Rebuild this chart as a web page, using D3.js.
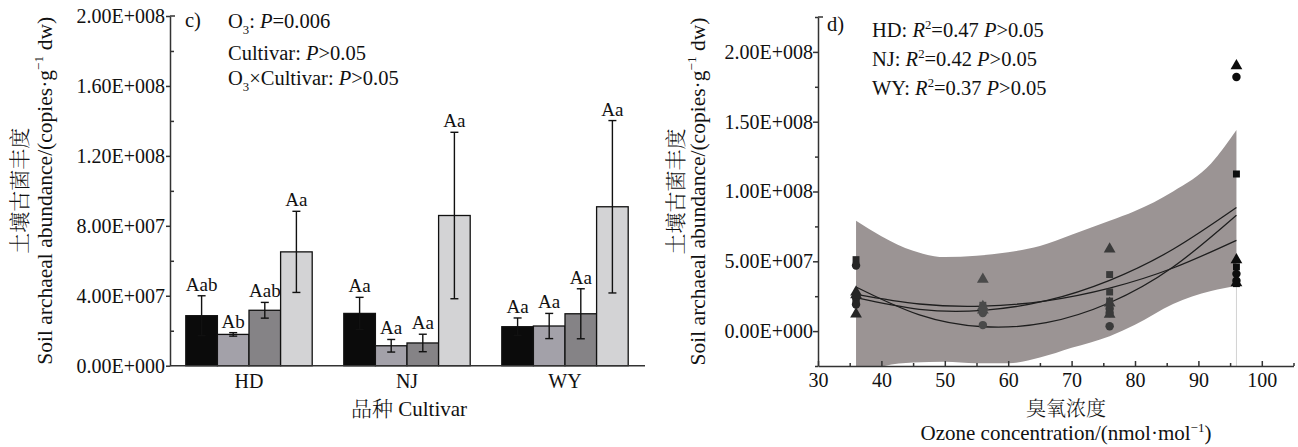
<!DOCTYPE html>
<html lang="zh">
<head>
<meta charset="UTF-8">
<title>Soil archaeal abundance</title>
<script src="https://d3js.org/d3.v7.min.js"></script>
<style>
  body { margin: 0; background: #fff; }
  svg text { font-family: "Liberation Serif", "Times New Roman", serif; fill: #111; }
  svg .cjk { font-family: "Noto Serif CJK SC", "Noto Sans CJK SC", sans-serif; font-weight: 300; }
  .axis path, .axis line { stroke: #333; stroke-width: 1.5; }
  .axis text { font-size: 20px; }
</style>
</head>
<body>
<script>
// ---- data ----
const cultivars = ["HD", "NJ", "WY"];
const ozoneLevels = [36, 56, 76, 96];

// bar chart (c): mean and error per ozone level
const hdMean = [2.86e7, 1.79e7, 3.17e7, 6.51e7];
const njMean = [2.99e7, 1.14e7, 1.30e7, 8.59e7];
const wyMean = [2.23e7, 2.27e7, 2.97e7, 9.09e7];
const hdErr = [1.14e7, 0.10e7, 0.45e7, 2.32e7];
const njErr = [0.92e7, 0.36e7, 0.50e7, 4.76e7];
const wyErr = [0.50e7, 0.72e7, 1.43e7, 4.93e7];
const hdLetters = ["Aab", "Ab", "Aab", "Aa"];
const njLetters = ["Aa", "Aa", "Aa", "Aa"];
const wyLetters = ["Aa", "Aa", "Aa", "Aa"];
const barTicks = [0, 4e7, 8e7, 1.2e8, 1.6e8, 2e8];

// scatter (d): observations (HD squares, NJ circles, WY triangles)
const obsX = [36, 36, 36, 56, 56, 56, 76, 76, 76, 96, 96, 96];
const hdObs = [5.12e7, 2.3e7, 2.05e7, 1.85e7, 1.7e7, 1.55e7, 4.05e7, 2.8e7, 2.15e7, 11.25e7, 4.6e7, 3.4e7];
const njObs = [4.7e7, 2.4e7, 1.9e7, 1.39e7, 0.43e7, 1.3e7, 0.35e7, 1.6e7, 1.3e7, 18.2e7, 4.1e7, 3.6e7];
const wyObs = [2.8e7, 1.22e7, 2.6e7, 3.71e7, 1.75e7, 1.5e7, 5.87e7, 2.0e7, 1.2e7, 19.0e7, 5.1e7, 3.45e7];

// fitted curves
const fitX = [36, 46, 56, 66, 76, 86, 96];
const hdFit = [2.63e7, 1.94e7, 1.79e7, 2.17e7, 3.08e7, 4.52e7, 6.5e7];
const njFit = [3.16e7, 1.16e7, 0.31e7, 0.60e7, 2.03e7, 4.59e7, 8.3e7];
const wyFit = [2.39e7, 1.56e7, 1.49e7, 2.18e7, 3.64e7, 5.86e7, 8.85e7];

// confidence band envelope
const bandX = [36, 40, 45, 50, 55, 60, 65, 70, 76, 80, 86, 92, 96];
const bandUpper = [7.9e7, 6.8e7, 5.75e7, 5.3e7, 5.4e7, 5.65e7, 6.1e7, 6.9e7, 7.9e7, 8.6e7, 10.0e7, 12.0e7, 14.4e7];
const bandLower = [-3.2e7, -2.55e7, -2.25e7, -2.2e7, -2.3e7, -2.3e7, -1.9e7, -1.2e7, -0.36e7, 0.45e7, 1.95e7, 2.87e7, 3.23e7];

const scatterYTicks = [0, 5e7, 1e8, 1.5e8, 2e8];
const scatterXTicks = [30, 40, 50, 60, 70, 80, 90, 100];

// ---- helpers ----
const width = 1298, height = 447;
const barColors = ["#0b0b0b", "#a3a1a9", "#858386", "#d3d3d5"];

function sci(v) {
    if (v === 0) return "0.00E+000";
    const e = Math.floor(Math.log10(Math.abs(v)));
    return (v / Math.pow(10, e)).toFixed(2) + "E+" + String(e).padStart(3, "0");
}

// text with sub/superscripts and italics
function rich(sel, parts, size) {
    let shift = 0;
    parts.forEach(p => {
        const ts = sel.append("tspan").text(p.t);
        const target = p.sub ? size * 0.3 : p.sup ? -size * 0.4 : 0;
        if (target !== shift) { ts.attr("dy", target - shift); shift = target; }
        if (p.sub || p.sup) ts.attr("font-size", size * 0.62);
        if (p.it) ts.attr("font-style", "italic");
    });
}

const svg = d3.select("body").append("svg")
    .attr("width", width)
    .attr("height", height);

// ================= chart c) =================
const cL = 170, cR = 644, cT = 16, cB = 365.7;

const x0 = d3.scaleBand().domain(cultivars).range([cL, cR]).paddingInner(0.2).paddingOuter(0.1);
const x1 = d3.scaleBand().domain(ozoneLevels).range([0, x0.bandwidth()]);
const yC = d3.scaleLinear().domain([0, 2e8]).range([cB, cT]);

const barData = [];
[[hdMean, hdErr, hdLetters], [njMean, njErr, njLetters], [wyMean, wyErr, wyLetters]].forEach((s, i) => {
    ozoneLevels.forEach((o, j) => {
        barData.push({ cult: cultivars[i], oz: o, idx: j, mean: s[0][j], err: s[1][j], lab: s[2][j] });
    });
});

const gBars = svg.append("g");
gBars.selectAll("rect")
    .data(barData)
    .enter()
    .append("rect")
    .attr("x", d => x0(d.cult) + x1(d.oz))
    .attr("y", d => yC(d.mean))
    .attr("width", x1.bandwidth())
    .attr("height", d => cB - yC(d.mean))
    .attr("fill", d => barColors[d.idx])
    .attr("stroke", "#111")
    .attr("stroke-width", 1.3);

// error bars
const eb = gBars.selectAll(".eb").data(barData).enter().append("g")
    .attr("transform", d => "translate(" + (x0(d.cult) + x1(d.oz) + x1.bandwidth() / 2) + ",0)");
eb.append("line")
    .attr("y1", d => yC(d.mean - d.err)).attr("y2", d => yC(d.mean + d.err))
    .attr("stroke", "#111").attr("stroke-width", 1.4);
eb.append("line")
    .attr("x1", -4).attr("x2", 4)
    .attr("y1", d => yC(d.mean + d.err)).attr("y2", d => yC(d.mean + d.err))
    .attr("stroke", "#111").attr("stroke-width", 1.4);
eb.append("line")
    .attr("x1", -4).attr("x2", 4)
    .attr("y1", d => yC(d.mean - d.err)).attr("y2", d => yC(d.mean - d.err))
    .attr("stroke", "#111").attr("stroke-width", 1.4);
eb.append("text")
    .attr("y", d => yC(d.mean + d.err) - 5)
    .attr("text-anchor", "middle")
    .attr("font-size", "19px")
    .text(d => d.lab);

// axes
svg.append("g")
    .attr("class", "axis")
    .attr("transform", "translate(" + cL + ",0)")
    .call(d3.axisLeft(yC).tickValues(barTicks).tickFormat(sci).tickSize(4).tickPadding(1).tickSizeOuter(0));
svg.append("g")
    .attr("class", "axis")
    .attr("transform", "translate(" + cL + ",0)")
    .call(d3.axisRight(yC).tickValues(barTicks.slice(1).map(v => v - 2e7)).tickFormat("").tickSize(4).tickSizeOuter(0))
    .select(".domain").remove();
svg.append("line").attr("x1", cL).attr("x2", cL + 5).attr("y1", cT).attr("y2", cT)
    .attr("stroke", "#333").attr("stroke-width", 1.5);

svg.append("g")
    .attr("class", "axis")
    .attr("transform", "translate(0," + cB + ")")
    .call(d3.axisBottom(x0).tickSize(0).tickPadding(8).tickSizeOuter(0))
    .call(g => g.select(".domain").attr("d", "M" + cL + ",0H" + (cR + 1)));

// axis titles
svg.append("text").attr("class", "cjk")
    .attr("transform", "translate(27," + ((cT + cB) / 2) + ") rotate(-90)")
    .attr("text-anchor", "middle").attr("font-size", "21px")
    .text("土壤古菌丰度");
const ylC = svg.append("text")
    .attr("transform", "translate(52," + ((cT + cB) / 2) + ") rotate(-90)")
    .attr("text-anchor", "middle").attr("font-size", "21.5px");
rich(ylC, [{ t: "Soil archaeal abundance/(copies·g" }, { t: "−1", sup: true }, { t: " dw)" }], 21.5);

const xtC = svg.append("text").attr("x", 409).attr("y", 416)
    .attr("text-anchor", "middle").attr("font-size", "21px");
xtC.append("tspan").attr("class", "cjk").text("品种");
xtC.append("tspan").text(" Cultivar");

// annotations
svg.append("text").attr("x", 185).attr("y", 27).attr("font-size", "20.5px").text("c)");
const a1 = svg.append("text").attr("x", 228).attr("y", 28).attr("font-size", "20.5px");
rich(a1, [{ t: "O" }, { t: "3", sub: true }, { t: ": " }, { t: "P", it: true }, { t: "=0.006" }], 20.5);
const a2 = svg.append("text").attr("x", 228).attr("y", 60).attr("font-size", "20.5px");
rich(a2, [{ t: "Cultivar: " }, { t: "P", it: true }, { t: ">0.05" }], 20.5);
const a3 = svg.append("text").attr("x", 228).attr("y", 85).attr("font-size", "20.5px");
rich(a3, [{ t: "O" }, { t: "3", sub: true }, { t: "×Cultivar: " }, { t: "P", it: true }, { t: ">0.05" }], 20.5);

// ================= chart d) =================
const dL = 818, dR = 1293.5, dT = 17, dB = 366;
const xD = d3.scaleLinear().domain([30, 105]).range([dL, dR]);
const yD = d3.scaleLinear().domain([-2.5e7, 2.25e8]).range([dB, dT]);

svg.append("clipPath").attr("id", "clipD")
    .append("rect").attr("x", dL).attr("y", dT).attr("width", dR - dL).attr("height", dB - dT);
const gD = svg.append("g").attr("clip-path", "url(#clipD)");

const band = d3.area()
    .x((d, i) => xD(bandX[i]))
    .y0((d, i) => yD(bandLower[i]))
    .y1((d, i) => yD(bandUpper[i]))
    .curve(d3.curveMonotoneX);
gD.append("path").datum(bandX).attr("d", band).attr("fill", "#9b9494");

gD.append("line")
    .attr("x1", xD(96)).attr("x2", xD(96))
    .attr("y1", yD(bandLower[bandLower.length - 1])).attr("y2", dB)
    .attr("stroke", "#d2d2d2").attr("stroke-width", 1);

const fitLine = d3.line().x((d, i) => xD(fitX[i])).y(d => yD(d)).curve(d3.curveNatural);
[hdFit, njFit, wyFit].forEach(f => {
    gD.append("path").datum(f).attr("d", fitLine)
        .attr("fill", "none").attr("stroke", "#1e1e1e").attr("stroke-width", 1.3);
});

const levelShade = d3.scaleOrdinal().domain(ozoneLevels).range(["#262626", "#4a4a4a", "#3a3a3a", "#0d0d0d"]);
const series = [
    { vals: hdObs, sym: d3.symbolSquare, size: 48 },
    { vals: njObs, sym: d3.symbolCircle, size: 56 },
    { vals: wyObs, sym: d3.symbolTriangle, size: 60 }
];
series.forEach(s => {
    gD.selectAll(null)
        .data(s.vals)
        .enter()
        .append("path")
        .attr("d", d3.symbol().type(s.sym).size(s.size))
        .attr("transform", (d, i) => "translate(" + xD(obsX[i]) + "," + yD(d) + ")")
        .attr("fill", (d, i) => levelShade(obsX[i]));
});

// axes
svg.append("g")
    .attr("class", "axis")
    .attr("transform", "translate(" + dL + ",0)")
    .call(d3.axisLeft(yD).tickValues(scatterYTicks).tickFormat(sci).tickSize(5).tickPadding(0).tickSizeOuter(0));
svg.append("g")
    .attr("class", "axis")
    .attr("transform", "translate(" + dL + ",0)")
    .call(d3.axisLeft(yD).tickValues(scatterYTicks.map(v => v - 2.5e7).concat([2.25e8])).tickFormat("").tickSize(3).tickSizeOuter(0))
    .select(".domain").remove();
svg.append("line").attr("x1", dL).attr("x2", dL + 5).attr("y1", dT).attr("y2", dT)
    .attr("stroke", "#333").attr("stroke-width", 1.5);

svg.append("g")
    .attr("class", "axis")
    .attr("transform", "translate(0," + dB + ")")
    .call(d3.axisBottom(xD).tickValues(scatterXTicks).tickSize(-5).tickPadding(7).tickSizeOuter(0));
svg.append("g")
    .attr("class", "axis")
    .attr("transform", "translate(0," + dB + ")")
    .call(d3.axisBottom(xD).tickValues(scatterXTicks.map(v => v + 5)).tickFormat("").tickSize(-3).tickSizeOuter(0))
    .select(".domain").remove();

// axis titles
svg.append("text").attr("class", "cjk")
    .attr("transform", "translate(683," + ((dT + dB) / 2) + ") rotate(-90)")
    .attr("text-anchor", "middle").attr("font-size", "21px")
    .text("土壤古菌丰度");
const ylD = svg.append("text")
    .attr("transform", "translate(705," + ((dT + dB) / 2) + ") rotate(-90)")
    .attr("text-anchor", "middle").attr("font-size", "21.5px");
rich(ylD, [{ t: "Soil archaeal abundance/(copies·g" }, { t: "−1", sup: true }, { t: " dw)" }], 21.5);

svg.append("text").attr("class", "cjk")
    .attr("x", 1066).attr("y", 416)
    .attr("text-anchor", "middle").attr("font-size", "20px")
    .text("臭氧浓度");
const xtD = svg.append("text").attr("x", 1066).attr("y", 440)
    .attr("text-anchor", "middle").attr("font-size", "21px");
rich(xtD, [{ t: "Ozone concentration/(nmol·mol" }, { t: "−1", sup: true }, { t: ")" }], 21);

// annotations
svg.append("text").attr("x", 827).attr("y", 31).attr("font-size", "20.5px").text("d)");
[["HD: ", "0.47", 37], ["NJ: ", "0.42", 66], ["WY: ", "0.37", 95]].forEach(r => {
    const t = svg.append("text").attr("x", 872).attr("y", r[2]).attr("font-size", "20.5px");
    rich(t, [{ t: r[0] }, { t: "R", it: true }, { t: "2", sup: true }, { t: "=" + r[1] + " " }, { t: "P", it: true }, { t: ">0.05" }], 20.5);
});
</script>
</body>
</html>
